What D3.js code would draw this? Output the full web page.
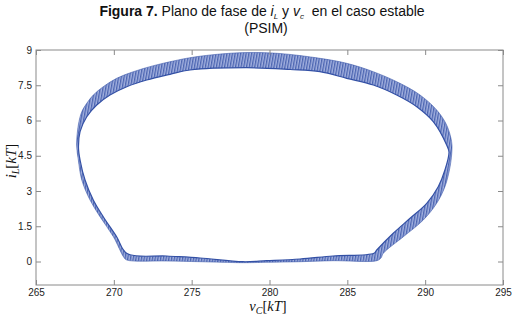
<!DOCTYPE html>
<html>
<head>
<meta charset="utf-8">
<script src="https://cdn.jsdelivr.net/npm/d3@7/dist/d3.min.js"></script>
<style>
  html, body { margin: 0; padding: 0; background: #fff; }
  svg { display: block; }
</style>
</head>
<body>
<svg id="chart" width="517" height="318"></svg>
<script>
// ---- Data ----
const xTicks = [265, 270, 275, 280, 285, 290, 295];
const yTicks = [0, 1.5, 3, 4.5, 6, 7.5, 9];
const yTickLabels = ["0", "1.5", "3", "4.5", "6", "7.5", "9"];

// Outer edge of the limit-cycle band (vC [kT], iL [kT])
const outerV = [270.65, 269.97, 269.11, 268.47, 267.94, 267.72, 267.61, 267.72, 267.94, 268.26,
                268.68, 269.32, 270.18, 271.25, 272.54, 273.82, 274.89, 276.50, 278.54, 280.67,
                283.24, 284.96, 286.67, 288.38, 289.67, 290.74, 291.38, 291.70, 291.72, 291.60,
                291.27, 290.74, 289.88, 288.60, 287.31, 287.16, 286.89, 284.08, 281.96, 279.82,
                278.30, 275.54, 273.40, 270.83];
const outerI = [0.17, 1.055, 1.906, 2.617, 3.468, 4.319, 4.957, 5.808, 6.374, 6.731,
                7.085, 7.438, 7.795, 8.076, 8.332, 8.531, 8.672, 8.808, 8.893, 8.851,
                8.646, 8.434, 8.076, 7.583, 7.085, 6.447, 5.808, 5.098, 4.745, 4.034,
                3.183, 2.477, 1.766, 1.055, 0.349, 0.149, 0.034, 0.034, -0.009, -0.034,
                -0.051, -0.009, 0.021, 0.064];

// Inner edge of the band
const innerV = [270.85, 270.18, 269.32, 268.68, 268.15, 267.83, 267.73, 267.83, 268.26, 268.90,
                269.75, 270.83, 272.11, 273.61, 274.89, 278.54, 281.32, 283.24, 284.96, 286.67,
                288.17, 289.46, 290.52, 291.38, 291.53, 291.27, 290.84, 290.10, 289.03, 287.95,
                286.89, 286.71, 284.08, 281.96, 279.82, 278.30, 275.54, 273.40];
const innerI = [0.340, 1.055, 1.906, 2.617, 3.468, 4.319, 4.830, 5.523, 6.161, 6.659,
                7.085, 7.438, 7.723, 7.966, 8.149, 8.247, 8.170, 8.076, 7.795, 7.510,
                7.085, 6.587, 5.949, 4.957, 4.660, 3.894, 3.183, 2.477, 1.838, 1.200,
                0.489, 0.349, 0.234, 0.106, 0.034, -0.009, 0.149, 0.234];

const outer = outerV.map((v, i) => [v, outerI[i]]);
const inner = innerV.map((v, i) => [v, innerI[i]]);

// ---- Layout ----
const svg = d3.select("#chart");
const L = 36, R = 503, T = 50, B = 285;
const x = d3.scaleLinear().domain([265, 295]).range([L, R]);
const y = d3.scaleLinear().domain([-1, 9]).range([B, T]);

const dark = "#3350a5";
const light = "#a2b0de";

// hatch pattern for the ripple texture
const defs = svg.append("defs");
const pat = defs.append("pattern")
  .attr("id", "hatch")
  .attr("patternUnits", "userSpaceOnUse")
  .attr("width", 2.7).attr("height", 8)
  .attr("patternTransform", "rotate(10)");
pat.append("rect").attr("width", 2.7).attr("height", 8).attr("fill", light);
pat.append("line").attr("x1", 0.7).attr("x2", 0.7).attr("y1", 0).attr("y2", 8)
  .attr("stroke", dark).attr("stroke-width", 1.0);

// ---- Band ----
const line = d3.line()
  .x(d => x(d[0])).y(d => y(d[1]))
  .curve(d3.curveCatmullRomClosed.alpha(0.5));

svg.append("path")
  .attr("d", line(outer) + line(inner))
  .attr("fill", "url(#hatch)")
  .attr("fill-rule", "evenodd")
  .attr("stroke", "none");

svg.append("path").attr("d", line(outer))
  .attr("fill", "none").attr("stroke", dark).attr("stroke-width", 0.9).attr("stroke-opacity", 0.6);
svg.append("path").attr("d", line(inner))
  .attr("fill", "none").attr("stroke", dark).attr("stroke-width", 1.2);

// ---- Axes ----
const axisColor = "#8a8a8a";
const fontAx = "Liberation Sans, Arial, sans-serif";

const gx = svg.append("g").attr("transform", `translate(0,${B})`)
  .call(d3.axisBottom(x).tickValues(xTicks).tickSize(-5).tickSizeOuter(0).tickPadding(4)
        .tickFormat(d => String(d)));
const gxt = svg.append("g").attr("transform", `translate(0,${T})`)
  .call(d3.axisTop(x).tickValues(xTicks).tickSize(-5).tickSizeOuter(0).tickFormat(""));
const gy = svg.append("g").attr("transform", `translate(${L},0)`)
  .call(d3.axisLeft(y).tickValues(yTicks).tickSize(-5).tickSizeOuter(0).tickPadding(4)
        .tickFormat((d, i) => yTickLabels[i]));
const gyr = svg.append("g").attr("transform", `translate(${R},0)`)
  .call(d3.axisRight(y).tickValues(yTicks).tickSize(-5).tickSizeOuter(0).tickFormat(""));

[gx, gxt, gy, gyr].forEach(g => {
  g.select(".domain").remove();
  g.selectAll(".tick line").attr("stroke", axisColor);
  g.selectAll(".tick text").attr("fill", "#222").attr("font-size", 10).attr("font-family", fontAx);
});

svg.append("rect")
  .attr("x", L).attr("y", T).attr("width", R - L).attr("height", B - T)
  .attr("fill", "none").attr("stroke", axisColor).attr("stroke-width", 1);

// ---- Axis labels ----
const serif = "Liberation Serif, Times New Roman, serif";
const xl = svg.append("text")
  .attr("x", 268).attr("y", 311).attr("text-anchor", "middle")
  .attr("font-family", serif).attr("font-size", 14.5).attr("fill", "#111");
xl.append("tspan").attr("font-style", "italic").text("v");
xl.append("tspan").attr("font-style", "italic").attr("font-size", 10).attr("dy", 3).text("C");
xl.append("tspan").attr("dy", -3).text("[");
xl.append("tspan").attr("font-style", "italic").text("kT");
xl.append("tspan").text("]");

const yl = svg.append("text")
  .attr("transform", "translate(16,161) rotate(-90)").attr("text-anchor", "middle")
  .attr("font-family", serif).attr("font-size", 15).attr("fill", "#111");
yl.append("tspan").attr("font-style", "italic").text("i");
yl.append("tspan").attr("font-style", "italic").attr("font-size", 10).attr("dy", 3).text("L");
yl.append("tspan").attr("dy", -3).text("[");
yl.append("tspan").attr("font-style", "italic").text("kT");
yl.append("tspan").text("]");

// ---- Title ----
const t1 = svg.append("text")
  .attr("x", 262).attr("y", 16).attr("text-anchor", "middle")
  .attr("font-family", fontAx).attr("font-size", 14).attr("fill", "#111");
t1.append("tspan").attr("font-weight", "bold").text("Figura 7.");
t1.append("tspan").text(" Plano de fase de ");
t1.append("tspan").attr("font-style", "italic").text("i");
t1.append("tspan").attr("font-style", "italic").attr("font-size", 8).attr("dy", 2.5).text("L");
t1.append("tspan").attr("dy", -2.5).text(" y ");
t1.append("tspan").attr("font-style", "italic").text("v");
t1.append("tspan").attr("font-style", "italic").attr("font-size", 8).attr("dy", 2.5).text("c");
t1.append("tspan").attr("dy", -2.5).text("\u00a0 en el caso estable");

svg.append("text")
  .attr("x", 266).attr("y", 33).attr("text-anchor", "middle")
  .attr("font-family", fontAx).attr("font-size", 14).attr("fill", "#111")
  .text("(PSIM)");
</script>
</body>
</html>
